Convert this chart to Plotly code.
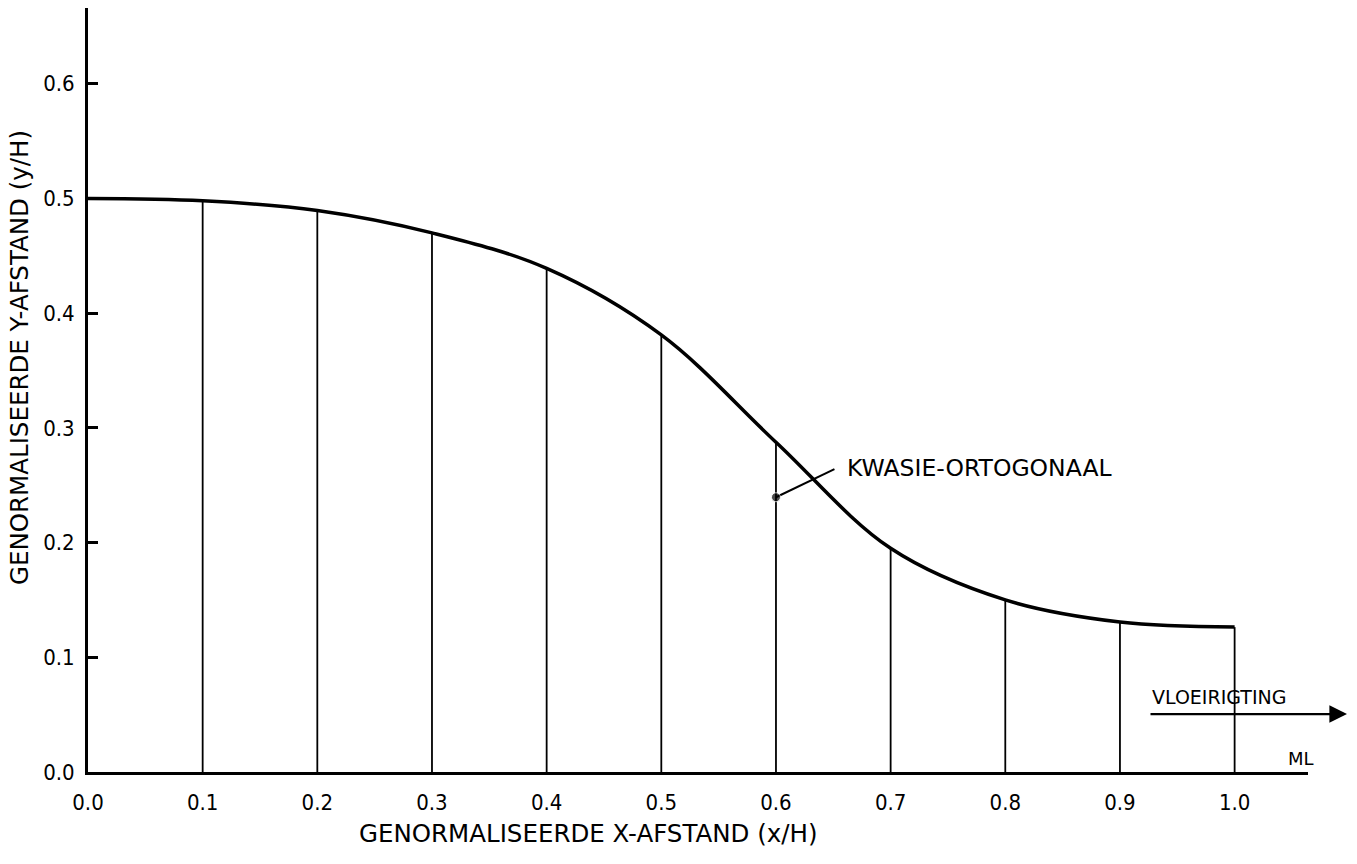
import plotly.graph_objects as go

# Data
x_stations = [0.0, 0.1, 0.2, 0.3, 0.4, 0.5, 0.6, 0.7, 0.8, 0.9, 1.0]
y_profile = [0.500, 0.498, 0.4895, 0.470, 0.439, 0.381, 0.2875, 0.195, 0.150, 0.1307, 0.1263]
x_tick_vals = [0.0, 0.1, 0.2, 0.3, 0.4, 0.5, 0.6, 0.7, 0.8, 0.9, 1.0]
x_tick_text = ["0.0", "0.1", "0.2", "0.3", "0.4", "0.5", "0.6", "0.7", "0.8", "0.9", "1.0"]
y_tick_vals = [0.0, 0.1, 0.2, 0.3, 0.4, 0.5, 0.6]
y_tick_text = ["0.0", "0.1", "0.2", "0.3", "0.4", "0.5", "0.6"]
ortho_point = [0.6, 0.2395]
ortho_label_point = [0.651, 0.264]

FONT = "DejaVu Sans Condensed, DejaVu Sans, sans-serif"
WFONT = "DejaVu Sans, sans-serif"

fig = go.Figure()

# vertical station lines
vx, vy = [], []
for xi, yi in zip(x_stations[1:], y_profile[1:]):
    vx += [xi, xi, None]
    vy += [0, yi, None]
fig.add_trace(go.Scatter(x=vx, y=vy, mode="lines",
                         line=dict(color="black", width=1.8),
                         hoverinfo="skip", showlegend=False))

# profile curve
fig.add_trace(go.Scatter(x=x_stations, y=y_profile, mode="lines",
                         line=dict(color="black", width=3.5, shape="spline", smoothing=1.0),
                         showlegend=False))

# leader line to quasi-orthogonal
fig.add_trace(go.Scatter(x=[ortho_point[0], ortho_label_point[0]],
                         y=[ortho_point[1], ortho_label_point[1]],
                         mode="lines+markers",
                         line=dict(color="black", width=2),
                         marker=dict(size=[9, 0], color="black"),
                         showlegend=False, cliponaxis=False))

fig.add_annotation(x=0.66, y=0.2648, xref="x", yref="y", text="KWASIE-ORTOGONAAL",
                   showarrow=False, xanchor="left", yanchor="middle",
                   font=dict(family=WFONT, size=23.5, color="black"))

# flow direction arrow
fig.add_annotation(x=(1347 - 88) / 1220, y=0.0505, xref="paper", yref="y",
                   ax=-198, ay=0, axref="pixel", ayref="pixel",
                   text="", showarrow=True, arrowhead=2, arrowsize=1.6,
                   arrowwidth=2.2, arrowcolor="black")
fig.add_annotation(x=0.926, y=0.0653, xref="x", yref="y", text="VLOEIRIGTING",
                   showarrow=False, xanchor="left", yanchor="middle",
                   font=dict(family=WFONT, size=19, color="black"))

fig.add_annotation(x=1.0575, y=0.0115, xref="x", yref="y", text="ML",
                   showarrow=False, xanchor="center", yanchor="middle",
                   font=dict(family=WFONT, size=18, color="black"))

# axis titles (placed as in the reference)
fig.add_annotation(x=(588 - 88) / 1220, y=-(833 - 772) / 764, xref="paper", yref="paper",
                   text="GENORMALISEERDE X-AFSTAND (x/H)", showarrow=False,
                   xanchor="center", yanchor="middle",
                   font=dict(family=WFONT, size=24.5, color="black"))
fig.add_annotation(x=-(88 - 20) / 1220, y=(772 - 358) / 764, xref="paper", yref="paper",
                   text="GENORMALISEERDE Y-AFSTAND (y/H)", showarrow=False, textangle=-90,
                   xanchor="center", yanchor="middle",
                   font=dict(family=WFONT, size=24.5, color="black"))

fig.update_layout(
    width=1357, height=864,
    margin=dict(l=88, r=49, t=8, b=92),
    paper_bgcolor="white", plot_bgcolor="white",
    font=dict(family=FONT, color="black"),
    showlegend=False,
    xaxis=dict(range=[0, 1.064], showgrid=False, zeroline=False,
               showline=True, linecolor="black", linewidth=3,
               tickmode="array", tickvals=x_tick_vals, ticktext=x_tick_text,
               ticks="", ticklabelstandoff=9,
               tickfont=dict(family=FONT, size=22, color="black")),
    yaxis=dict(range=[0, 0.666], showgrid=False, zeroline=False,
               showline=True, linecolor="black", linewidth=3,
               tickmode="array", tickvals=y_tick_vals, ticktext=y_tick_text,
               ticks="inside", ticklen=10, tickwidth=2.5, tickcolor="black",
               ticklabelstandoff=6,
               tickfont=dict(family=FONT, size=22, color="black")),
)

fig.write_html("out.html")
